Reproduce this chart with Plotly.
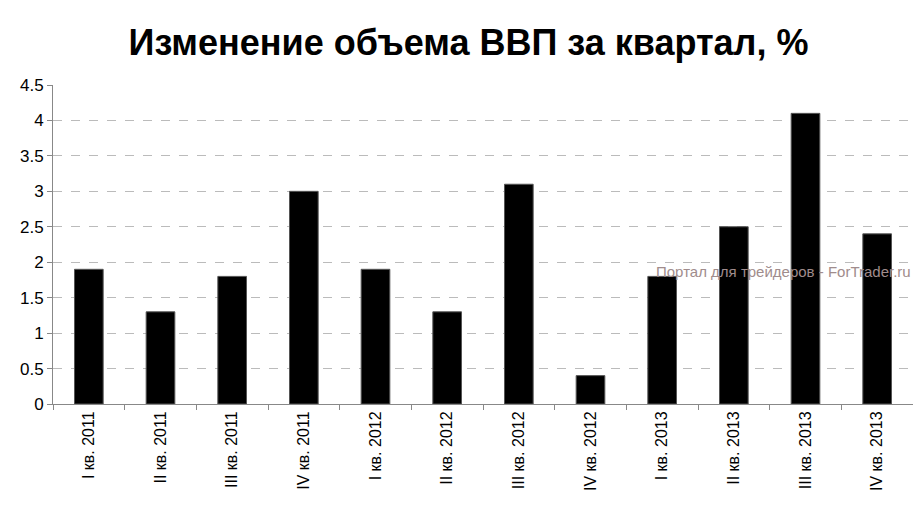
import plotly.graph_objects as go

categories = ["I кв. 2011","II кв. 2011","III кв. 2011","IV кв. 2011",
              "I кв. 2012","II кв. 2012","III кв. 2012","IV кв. 2012",
              "I кв. 2013","II кв. 2013","III кв. 2013","IV кв. 2013"]
values = [1.9,1.3,1.8,3.0,1.9,1.3,3.1,0.4,1.8,2.5,4.1,2.4]
y_ticks = [0,0.5,1,1.5,2,2.5,3,3.5,4,4.5]
y_labels = ["0","0.5","1","1.5","2","2.5","3","3.5","4","4.5"]

fig = go.Figure(go.Bar(x=categories, y=values, marker=dict(color="black", line=dict(color="#555", width=1))))
fig.update_layout(
    width=921, height=525, plot_bgcolor="white", paper_bgcolor="white",
    margin=dict(l=33, r=16, t=77, b=129), bargap=0.6, showlegend=False,
    font=dict(family="Liberation Sans, Arial", color="black"),
    title=dict(text="<b>Изменение объема ВВП за квартал, %</b>", x=0.5, xanchor="center",
               y=0.935, yanchor="middle", font=dict(size=36, color="black")),
    annotations=[dict(text="Портал для трейдеров - ForTrader.ru", xref="paper", yref="paper",
                      x=1.0, y=0.415, xanchor="right", yanchor="middle", showarrow=False,
                      font=dict(size=15, color="#a08c8c"))],
)
fig.update_yaxes(range=[0,4.5], tickvals=y_ticks, ticktext=y_labels, showgrid=True,
                 gridcolor="#bbb", griddash="dash", showline=True, linecolor="#888",
                 ticks="outside", tickcolor="#888", ticklen=5, tickfont=dict(size=17), zeroline=False)
fig.update_xaxes(showline=True, linecolor="#888", tickangle=-90, tickfont=dict(size=16),
                 ticks="outside", tickcolor="#888", ticklen=5, tickson="boundaries")
fig.write_html("out.html")
